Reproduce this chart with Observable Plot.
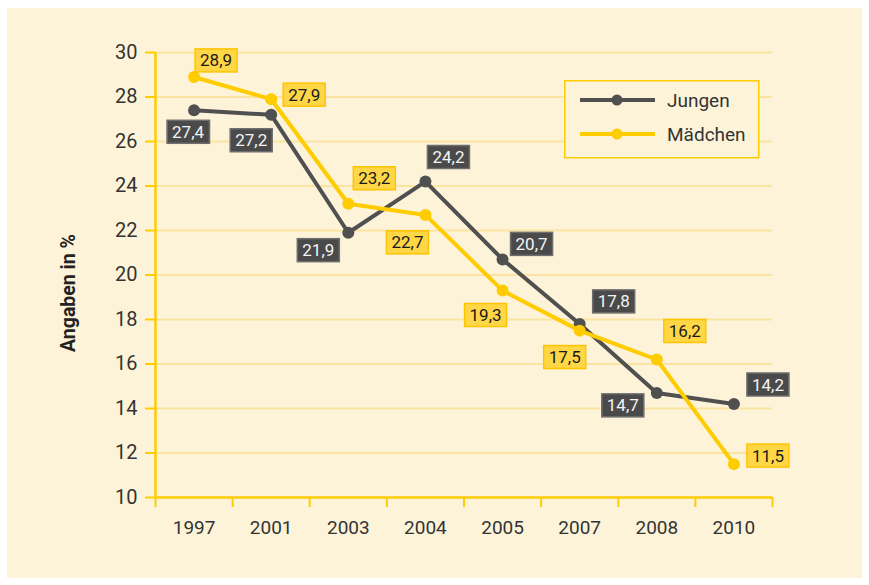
<!DOCTYPE html>
<html><head><meta charset="utf-8">
<script src="https://cdn.jsdelivr.net/npm/d3@7"></script>
<script src="https://cdn.jsdelivr.net/npm/@observablehq/plot@0.6"></script>
<style>
body{margin:0;background:#fff;width:869px;height:585px;overflow:hidden;position:relative;font-family:Roboto,sans-serif;}
#panel{position:absolute;left:7px;top:8px;width:855px;height:570px;background:#fdf3d9;}
#chart{position:absolute;left:0;top:0;}
#ytitle{position:absolute;left:68px;top:293px;transform:translate(-50%,-50%) rotate(-90deg);white-space:nowrap;font:bold 19.5px Roboto,sans-serif;color:#222;}
#legend{position:absolute;left:564px;top:80px;}
</style></head><body>
<div id="panel"></div><div id="chart"></div><div id="ytitle">Angaben in %</div><div id="legend"></div>
<script>
const years = ["1997","2001","2003","2004","2005","2007","2008","2010"];
const jungen = [27.4,27.2,21.9,24.2,20.7,17.8,14.7,14.2];
const maedchen = [28.9,27.9,23.2,22.7,19.3,17.5,16.2,11.5];
const seriesNames = ["Jungen","Mädchen"];
const yTicks = [10,12,14,16,18,20,22,24,26,28,30];
const yDomain = [10,30];

// label box offsets (layout, px) relative to each point
const jungenOffsets = [[-6,22],[-20,26],[-30,18],[23,-24],[29,-15],[34,-22],[-34,13],[34,-19]];
const maedchenOffsets = [[22,-16],[33,-4],[26,-25],[-18,28],[-17,25],[-15,27],[28,-28],[34,-8]];

const YELLOW = "#ffcc00", DARK = "#505050", GRID = "#fbe4a2", BG = "#fdf3d9";
const de = d3.formatLocale({decimal: ",", thousands: ".", grouping: [3], currency: ["", "€"]});
const fmt = de.format(".1f");

const jRows = years.map((year, i) => ({i, year, value: jungen[i]}));
const mRows = years.map((year, i) => ({i, year, value: maedchen[i]}));
const xDomain = [-0.5, years.length - 0.5];
const bounds = d3.range(years.length + 1).map(k => k - 0.5);

function labels(rows, offsets, fill, cls) {
  return rows.map((r, k) => Plot.text([r], {
    x: "i", y: "value", text: d => fmt(d.value),
    dx: offsets[k][0], dy: offsets[k][1],
    fill, fontSize: 17, className: cls
  }));
}

const chart = Plot.plot({
  width: 869, height: 585,
  marginLeft: 155, marginRight: 97, marginTop: 52, marginBottom: 88,
  style: {background: "transparent", fontFamily: "Roboto, sans-serif", color: "#333", overflow: "visible"},
  x: {type: "linear", domain: xDomain},
  y: {domain: yDomain},
  marks: [
    Plot.ruleY(yTicks.filter(t => t > yDomain[0]), {stroke: GRID, strokeWidth: 2}),
    Plot.axisY({ticks: yTicks, tickSize: 10, tickPadding: 8, stroke: YELLOW, strokeWidth: 2, fill: "#333", fontSize: 20, label: null, tickFormat: d => String(d)}),
    Plot.axisX({ticks: bounds, tickSize: 10, stroke: YELLOW, strokeWidth: 2, tickFormat: () => "", label: null}),
    Plot.axisX({ticks: d3.range(years.length), tickSize: 0, tickPadding: 23, tickFormat: i => years[i], fill: "#333", fontSize: 19, label: null}),
    Plot.ruleX([xDomain[0]], {stroke: YELLOW, strokeWidth: 2.5}),
    Plot.ruleY([yDomain[0]], {stroke: YELLOW, strokeWidth: 2.5}),
    Plot.line(jRows, {x: "i", y: "value", stroke: DARK, strokeWidth: 4}),
    Plot.dot(jRows, {x: "i", y: "value", fill: DARK, r: 6}),
    Plot.line(mRows, {x: "i", y: "value", stroke: YELLOW, strokeWidth: 4}),
    Plot.dot(mRows, {x: "i", y: "value", fill: YELLOW, r: 6}),
    ...labels(jRows, jungenOffsets, "#f4f4f4", "box-j"),
    ...labels(mRows, maedchenOffsets, "#1a1a1a", "box-m")
  ]
});
document.getElementById("chart").appendChild(chart);

// draw boxes behind the value labels
const NS = "http://www.w3.org/2000/svg";
function boxes(cls, fill, stroke) {
  chart.querySelectorAll("g." + cls + " text").forEach(t => {
    const bb = t.getBBox();
    const cy = bb.y + bb.height / 2;
    const r = document.createElementNS(NS, "rect");
    r.setAttribute("x", bb.x - 5);
    r.setAttribute("y", cy - 11.5);
    r.setAttribute("width", bb.width + 10);
    r.setAttribute("height", 23);
    r.setAttribute("fill", fill);
    r.setAttribute("stroke", stroke);
    r.setAttribute("stroke-width", 1.5);
    if (t.getAttribute("transform")) r.setAttribute("transform", t.getAttribute("transform"));
    t.parentNode.insertBefore(r, t);
  });
}
boxes("box-j", "#4a4a4a", "#6e6e6e");
boxes("box-m", "#ffd646", "#ffc400");

// legend
const lg = d3.select("#legend").append("svg").attr("width", 196).attr("height", 80);
lg.append("rect").attr("x", 0.75).attr("y", 0.75).attr("width", 194).attr("height", 77)
  .attr("fill", BG).attr("stroke", YELLOW).attr("stroke-width", 1.5);
const lcolors = [DARK, YELLOW];
const lys = [20, 54];
seriesNames.forEach((name, k) => {
  lg.append("line").attr("x1", 16).attr("x2", 91).attr("y1", lys[k]).attr("y2", lys[k])
    .attr("stroke", lcolors[k]).attr("stroke-width", 4);
  lg.append("circle").attr("cx", 53).attr("cy", lys[k]).attr("r", 5.5).attr("fill", lcolors[k]);
  lg.append("text").attr("x", 103).attr("y", lys[k]).attr("dy", "0.35em")
    .attr("font-family", "Roboto, sans-serif").attr("font-size", 19).attr("fill", "#333").text(name);
});
</script>
</body></html>
